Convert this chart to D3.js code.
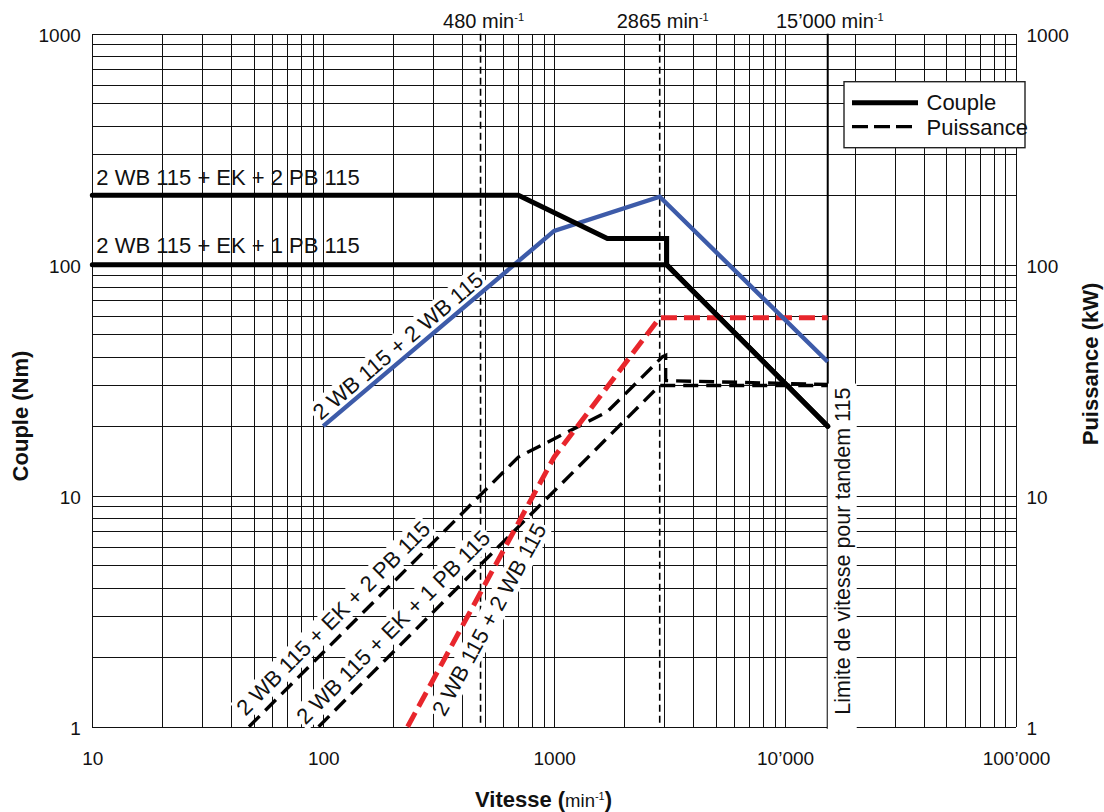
<!DOCTYPE html>
<html><head><meta charset="utf-8">
<script src="https://cdn.jsdelivr.net/npm/d3@7"></script>
<style>
html,body{margin:0;padding:0;background:#fff;}
svg{display:block;font-family:"Liberation Sans",Arial,Helvetica,sans-serif;}
</style></head>
<body><svg id="chart" width="1104" height="812"></svg>
<script>
// ---------- data ----------
const xTicks = [10, 100, 1000, 10000, 100000];
const xTickLabels = ["10", "100", "1000", "10’000", "100’000"];
const yTicks = [1, 10, 100, 1000];
const yTickLabels = ["1", "10", "100", "1000"];
const speedMarks = [480, 2865];
const speedMarkLabels = ["480", "2865"];
const speedLimit = 15300;
const speedLimitLabel = "15’000";

// torque (Nm) vs speed (min-1)
const couple2PB = [[10, 200], [700, 200], [1700, 130], [3070, 130], [3070, 100], [15300, 20]];
const couple1PB = [[10, 100], [3070, 100], [15300, 20]];
const couple2WB = [[100, 20], [1000, 140], [2865, 197], [15300, 38]];
// power (kW) vs speed (min-1)
const puissance2PB = [[47.7, 1], [700, 14.7], [1700, 23.1], [2950, 40], [3040, 40.5], [3040, 31.5], [15300, 30.3]];
const puissance1PB = [[95.5, 1], [2865, 30], [15300, 30]];
const puissance2WB = [[232, 1], [1000, 14.7], [2865, 59], [15300, 59]];

const labelA = "2 WB 115 + EK + 2 PB 115";
const labelB = "2 WB 115 + EK + 1 PB 115";
const labelC = "2 WB 115 + 2 WB 115";
const limitText = "Limite de vitesse pour tandem 115";
const legendNames = ["Couple", "Puissance"];

// ---------- layout ----------
const L = 92.3, R = 1016, T = 33.7, B = 726.7;
const svg = d3.select("#chart");
const x = d3.scaleLog().domain([10, 100000]).range([L, R]);
const y = d3.scaleLog().domain([1, 1000]).range([B, T]);
const FONT = '"Liberation Sans",Arial,Helvetica,sans-serif';

// minor grid values
const gridX = [], gridY = [];
for (let d = 10; d < 100000; d *= 10) for (let k = 1; k < 10; k++) gridX.push(d * k);
gridX.push(100000);
for (let d = 1; d < 1000; d *= 10) for (let k = 1; k < 10; k++) gridY.push(d * k);
gridY.push(1000);

const gridG = svg.append("g").attr("shape-rendering", "crispEdges");
gridG.append("g").attr("transform", `translate(0,${B})`)
  .call(d3.axisBottom(x).tickValues(gridX).tickSize(-(B - T)).tickFormat(""))
  .call(g => g.select(".domain").remove())
  .call(g => g.selectAll("line").attr("stroke", "#111").attr("stroke-width", 1));
gridG.append("g").attr("transform", `translate(${L},0)`)
  .call(d3.axisLeft(y).tickValues(gridY).tickSize(-(R - L)).tickFormat(""))
  .call(g => g.select(".domain").remove())
  .call(g => g.selectAll("line").attr("stroke", "#111").attr("stroke-width", 1));

// tick labels
const fmtX = d => xTickLabels[xTicks.indexOf(d)];
const fmtY = d => yTickLabels[yTicks.indexOf(d)];
function styleTicks(g) {
  g.select(".domain").remove();
  g.selectAll("line").remove();
  g.selectAll("text").attr("font-size", 19).attr("font-family", FONT).attr("fill", "#111");
}
svg.append("g").attr("transform", `translate(0,${B})`)
  .call(d3.axisBottom(x).tickValues(xTicks).tickFormat(fmtX).tickSize(0).tickPadding(25))
  .call(styleTicks);
svg.append("g").attr("transform", `translate(${L},0)`)
  .call(d3.axisLeft(y).tickValues(yTicks).tickFormat(fmtY).tickSize(0).tickPadding(11.5))
  .call(styleTicks).call(g => g.selectAll("text").attr("dy", "0.41em"));
svg.append("g").attr("transform", `translate(${R},0)`)
  .call(d3.axisRight(y).tickValues(yTicks).tickFormat(fmtY).tickSize(0).tickPadding(10.5))
  .call(styleTicks).call(g => g.selectAll("text").attr("dy", "0.41em"));

// vertical speed markers
speedMarks.forEach((s, i) => {
  svg.append("line").attr("x1", x(s)).attr("x2", x(s)).attr("y1", T).attr("y2", B)
    .attr("stroke", "#000").attr("stroke-width", 1.6).attr("stroke-dasharray", "7,4");
});
svg.append("line").attr("x1", x(speedLimit)).attr("x2", x(speedLimit)).attr("y1", T).attr("y2", B + 2)
  .attr("stroke", "#000").attr("stroke-width", 2);

// top labels
function minLabel(xpos, txt) {
  const t = svg.append("text").attr("x", xpos).attr("y", 28.3).attr("text-anchor", "middle")
    .attr("font-size", 20).attr("fill", "#111");
  t.append("tspan").text(txt + " min");
  t.append("tspan").attr("font-size", 11).attr("dy", -7).text("-1");
}
speedMarks.forEach((s, i) => minLabel(x(s) + 3, speedMarkLabels[i]));
minLabel(x(speedLimit) + 2, speedLimitLabel);

// helpers for labels on curves
function segInfo(series, seg, n) {
  const p0 = series[seg], p1 = series[seg + 1];
  const t = (Math.log10(n) - Math.log10(p0[0])) / (Math.log10(p1[0]) - Math.log10(p0[0]));
  const v = Math.pow(10, Math.log10(p0[1]) + t * (Math.log10(p1[1]) - Math.log10(p0[1])));
  const ang = Math.atan2(y(p1[1]) - y(p0[1]), x(p1[0]) - x(p0[0])) * 180 / Math.PI;
  return {px: x(n), py: y(v), ang};
}
function boxedText(g, txt, tx, ty, size, pad) {
  const r = g.append("rect").attr("fill", "#fff");
  const t = g.append("text").attr("x", tx).attr("y", ty).attr("font-size", size).attr("fill", "#111").text(txt);
  const bb = t.node().getBBox();
  r.attr("x", bb.x - pad[0]).attr("y", bb.y - pad[1]).attr("width", bb.width + pad[0] + pad[2]).attr("height", bb.height + pad[1] + pad[3]);
  return t;
}

const curveLabels = [
  {text: labelC, series: couple2WB, seg: 0, n: 101, offset: -5.5},
  {text: labelA, series: puissance2PB, seg: 0, n: 49.3, offset: -9.5},
  {text: labelB, series: puissance1PB, seg: 0, n: 90, offset: -10},
  {text: labelC, series: puissance2WB, seg: 0, n: 262, offset: 28}
];
const labelLayer = svg.append("g");
curveLabels.forEach(lb => {
  const s = segInfo(lb.series, lb.seg, lb.n);
  const g = labelLayer.append("g").attr("transform", `translate(${s.px},${s.py}) rotate(${s.ang})`);
  boxedText(g, lb.text, 0, lb.offset, 22, [2, 0, 2, 0]);
});

// limit label (vertical)
{
  const g = labelLayer.append("g").attr("transform", `translate(${x(speedLimit) + 22},${B - 12}) rotate(-90)`);
  boxedText(g, limitText, 0, 0, 21.5, [16, 3, 4, 2]);
}

// horizontal labels
svg.append("text").attr("x", x(10) + 4).attr("y", y(200) - 10.5).attr("font-size", 22).attr("fill", "#111").text(labelA);
svg.append("text").attr("x", x(10) + 4).attr("y", y(100) - 11.3).attr("font-size", 22).attr("fill", "#111").text(labelB);

// ---------- curves ----------
const line = d3.line().x(d => x(d[0])).y(d => y(d[1]));
const curves = svg.append("g").attr("fill", "none");
curves.append("path").datum(puissance1PB).attr("d", line).attr("stroke", "#000").attr("stroke-width", 3.4).attr("stroke-dasharray", "15,8");
curves.append("path").datum(puissance2PB).attr("d", line).attr("stroke", "#000").attr("stroke-width", 3.4).attr("stroke-dasharray", "15,8");
curves.append("path").datum(puissance2WB).attr("d", line).attr("stroke", "#e8262c").attr("stroke-width", 5).attr("stroke-dasharray", "16,7");
curves.append("path").datum(couple2WB).attr("d", line).attr("stroke", "#3d5ba9").attr("stroke-width", 4.4);
curves.append("path").datum(couple1PB).attr("d", line).attr("stroke", "#000").attr("stroke-width", 5).attr("stroke-linecap", "round");
curves.append("path").datum(couple2PB).attr("d", line).attr("stroke", "#000").attr("stroke-width", 5).attr("stroke-linecap", "round");

// ---------- legend ----------
const lg = svg.append("g");
lg.append("rect").attr("x", 844).attr("y", 81.7).attr("width", 181).attr("height", 66)
  .attr("fill", "#fff").attr("stroke", "#222").attr("stroke-width", 1.4);
lg.append("line").attr("x1", 852).attr("x2", 918).attr("y1", 102.7).attr("y2", 102.7).attr("stroke", "#000").attr("stroke-width", 5);
lg.append("line").attr("x1", 852).attr("x2", 918).attr("y1", 126.7).attr("y2", 126.7).attr("stroke", "#000").attr("stroke-width", 3.2).attr("stroke-dasharray", "16,6");
lg.append("text").attr("x", 926.5).attr("y", 110).attr("font-size", 22).attr("fill", "#111").text(legendNames[0]);
lg.append("text").attr("x", 926.5).attr("y", 134.5).attr("font-size", 22).attr("fill", "#111").text(legendNames[1]);

// ---------- axis titles ----------
svg.append("text").attr("transform", "translate(28,416) rotate(-90)").attr("text-anchor", "middle")
  .attr("font-size", 22).attr("font-weight", "bold").attr("fill", "#111").text("Couple (Nm)");
svg.append("text").attr("transform", "translate(1098,364) rotate(-90)").attr("text-anchor", "middle")
  .attr("font-size", 22).attr("font-weight", "bold").attr("fill", "#111").text("Puissance (kW)");
{
  const t = svg.append("text").attr("x", 475).attr("y", 806.5).attr("font-size", 22).attr("fill", "#111");
  t.append("tspan").attr("font-weight", "bold").text("Vitesse (");
  t.append("tspan").attr("font-size", 18.5).text("min");
  t.append("tspan").attr("font-size", 11).attr("dy", -7).text("-1");
  t.append("tspan").attr("font-weight", "bold").attr("dy", 7).text(")");
}
</script></body></html>
